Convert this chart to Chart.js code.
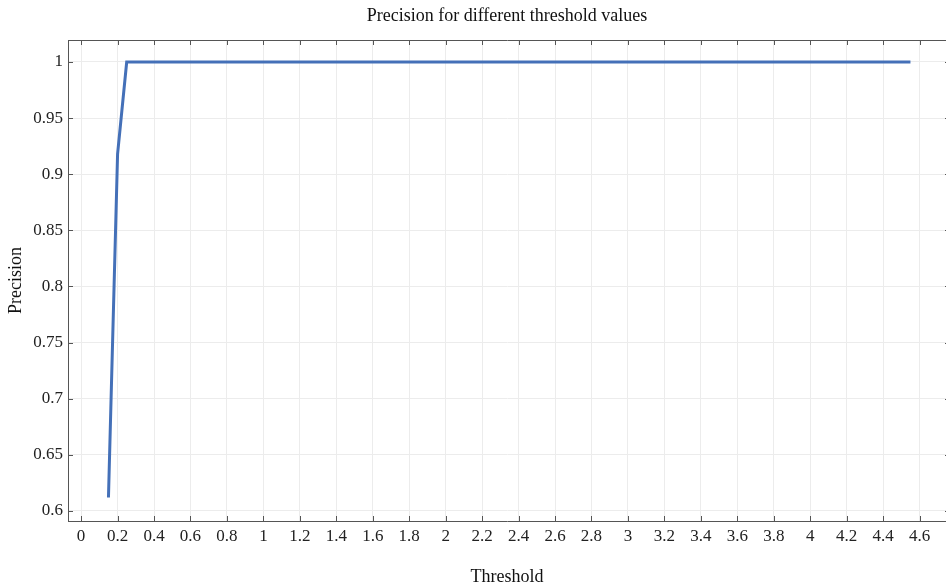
<!DOCTYPE html>
<html>
<head>
<meta charset="utf-8">
<script src="https://cdn.jsdelivr.net/npm/chart.js@4.4.0/dist/chart.umd.min.js"></script>
<style>
  html, body { margin: 0; padding: 0; background: #fff; }
  #wrap { width: 946px; height: 586px; }
</style>
</head>
<body>
<div id="wrap"><canvas id="myChart" width="946" height="586"></canvas></div>
<script>
// data
const thresholds = [0.15, 0.2, 0.25, 4.55];
const precision = [0.612, 0.918, 1, 1];
const xTicks = [0, 0.2, 0.4, 0.6, 0.8, 1, 1.2, 1.4, 1.6, 1.8, 2, 2.2, 2.4, 2.6, 2.8, 3, 3.2, 3.4, 3.6, 3.8, 4, 4.2, 4.4, 4.6];
const yTicks = [0.6, 0.65, 0.7, 0.75, 0.8, 0.85, 0.9, 0.95, 1];

const serif = "'Liberation Serif', 'DejaVu Serif', serif";

// frame ticks pointing inward on all four sides (Mathematica style)
const frameTicks = {
	id: 'frameTicks',
	afterDraw(chart) {
		const ctx = chart.ctx;
		const a = chart.chartArea;
		const xs = chart.scales.x, ys = chart.scales.y;
		ctx.save();
		ctx.strokeStyle = '#555';
		ctx.lineWidth = 1;
		ctx.beginPath();
		// top frame line (right frame falls just outside the picture)
		ctx.moveTo(a.left, a.top + 0.5);
		ctx.lineTo(a.right + 2, a.top + 0.5);
		xTicks.forEach(v => {
			const px = Math.round(xs.getPixelForValue(v)) + 0.5;
			ctx.moveTo(px, a.bottom);
			ctx.lineTo(px, a.bottom - 5);
			ctx.moveTo(px, a.top);
			ctx.lineTo(px, a.top + 5);
		});
		yTicks.forEach(v => {
			const py = Math.round(ys.getPixelForValue(v)) + 0.5;
			ctx.moveTo(a.left, py);
			ctx.lineTo(a.left + 5, py);
			ctx.moveTo(a.right + 3, py);
			ctx.lineTo(a.right - 1, py);
		});
		ctx.stroke();
		ctx.restore();
	}
};

function fmt(v) {
	return String(Number(v.toFixed(2)));
}

var ctx = document.getElementById('myChart').getContext('2d');
new Chart(ctx, {
	type: 'scatter',
	data: {
		datasets: [
			{
				label: 'Precision',
				data: thresholds.map((t, i) => ({ x: t, y: precision[i] })),
				showLine: true,
				borderColor: '#4470b8',
				borderWidth: 3,
				pointRadius: 0,
				fill: false,
			},
		],
	},
	plugins: [frameTicks],
	options: {
		responsive: false,
		animation: false,
		layout: { padding: { left: 0, right: 0, top: 0, bottom: 0 } },
		plugins: {
			legend: { display: false },
			tooltip: { enabled: false },
			title: {
				display: true,
				fullSize: false, // centre the title over the plot area
				text: 'Precision for different threshold values',
				color: '#111',
				font: { family: serif, size: 18, weight: 'normal', lineHeight: 1.2 },
				padding: { top: 5, bottom: 13.4 },
			},
		},
		scales: {
			x: {
				type: 'linear',
				min: -0.072,
				max: 4.745,
				afterBuildTicks: scale => { scale.ticks = xTicks.map(v => ({ value: v })); },
				afterFit: scale => { scale.height = 65; },
				ticks: {
					color: '#222',
					padding: 5,
					maxRotation: 0,
					autoSkip: false,
					font: { family: serif, size: 17 },
					callback: v => fmt(v),
				},
				grid: { color: '#ececec', drawTicks: false },
				border: { color: '#555', width: 1 },
				title: {
					display: true,
					text: 'Threshold',
					color: '#111',
					font: { family: serif, size: 18, lineHeight: 1 },
					padding: { top: 0, bottom: 0 },
				},
			},
			y: {
				type: 'linear',
				min: 0.591,
				max: 1.0196,
				afterBuildTicks: scale => { scale.ticks = yTicks.map(v => ({ value: v })); },
				afterFit: scale => { scale.width = 68; },
				ticks: {
					color: '#222',
					padding: 5,
					autoSkip: false,
					font: { family: serif, size: 17 },
					callback: v => fmt(v),
				},
				grid: { color: '#ececec', drawTicks: false },
				border: { color: '#555', width: 1 },
				title: {
					display: true,
					text: 'Precision',
					color: '#111',
					font: { family: serif, size: 18, lineHeight: 1 },
					padding: { top: 7, bottom: 0 },
				},
			},
		},
	},
});
</script>
</body>
</html>
